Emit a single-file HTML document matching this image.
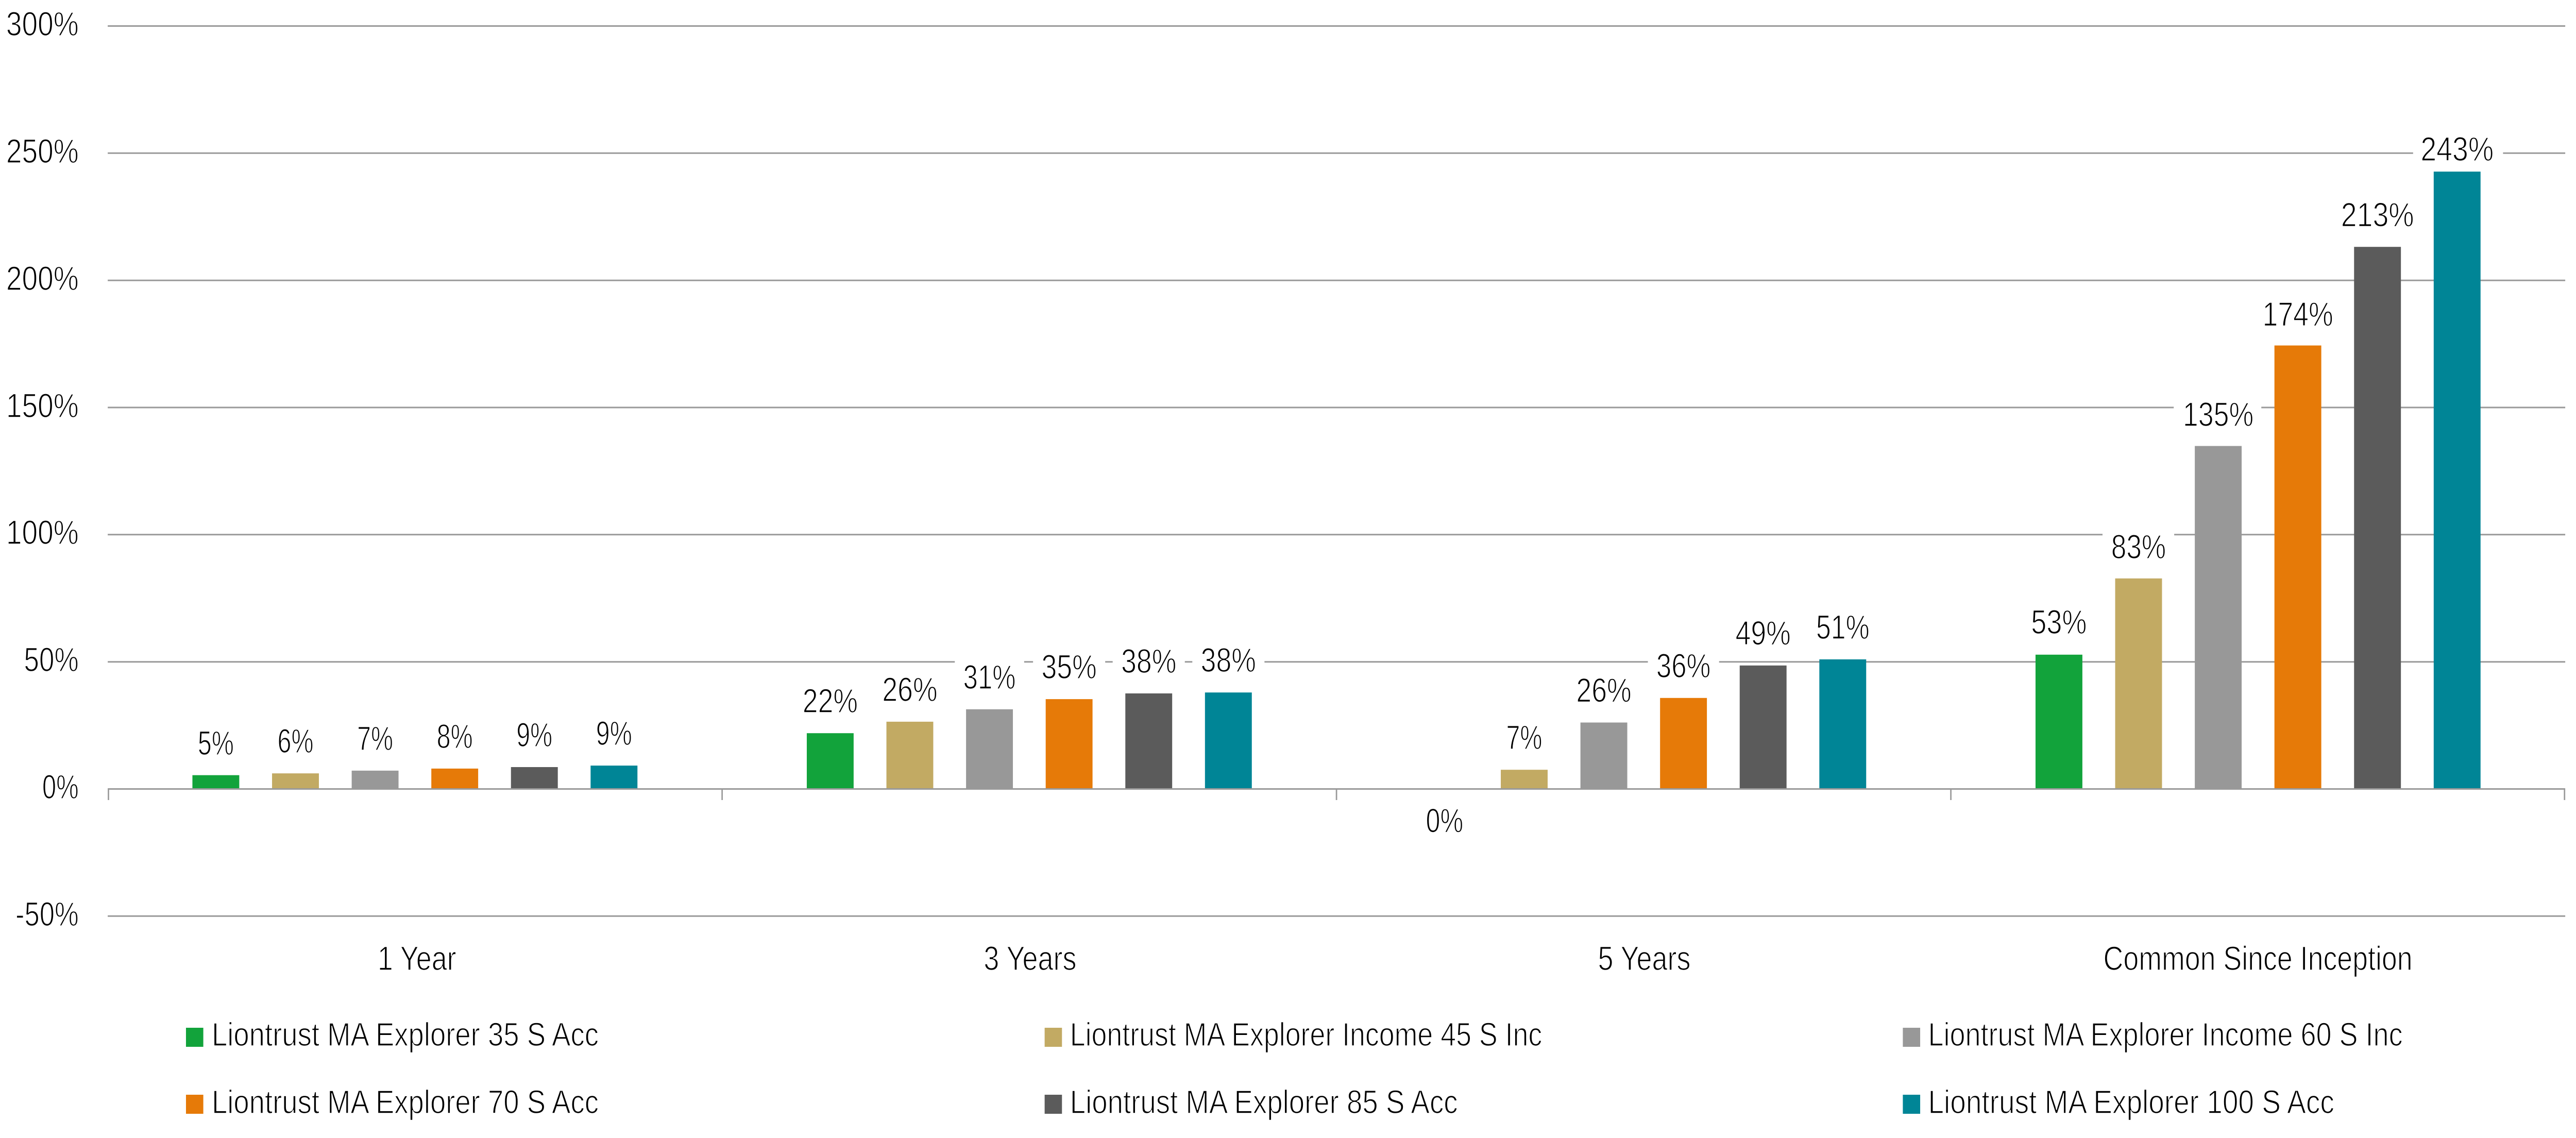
<!DOCTYPE html>
<html>
<head>
<meta charset="utf-8">
<style>
  html, body { margin: 0; padding: 0; background: #ffffff; width: 100%; height: 100%; overflow: hidden; }
  svg { position: fixed; left: 0; top: 0; width: 100vw; height: 100vh; display: block; }
  text { font-family: "Liberation Sans", "DejaVu Sans", sans-serif; fill: #000; stroke: #ffffff; stroke-width: 1.6px; }
</style>
</head>
<body>
<svg viewBox="0 0 5499 2209" preserveAspectRatio="none" xmlns="http://www.w3.org/2000/svg">
  <rect x="0" y="0" width="5499" height="2209" fill="#ffffff"/>

  <!-- gridlines -->
  <g stroke="#9a9a9a" stroke-width="3">
    <line x1="230" y1="50.5" x2="5476" y2="50.5"/>
    <line x1="230" y1="297.3" x2="5476" y2="297.3"/>
    <line x1="230" y1="544.2" x2="5476" y2="544.2"/>
    <line x1="230" y1="791" x2="5476" y2="791"/>
    <line x1="230" y1="1037.8" x2="5476" y2="1037.8"/>
    <line x1="230" y1="1284.7" x2="5476" y2="1284.7"/>
    <line x1="230" y1="1778.3" x2="5476" y2="1778.3"/>
  </g>

  <!-- y-axis labels -->
  <g font-size="66" text-anchor="end">
    <text x="168" y="69" textLength="155" lengthAdjust="spacingAndGlyphs">300%</text>
    <text x="168" y="316" textLength="155" lengthAdjust="spacingAndGlyphs">250%</text>
    <text x="168" y="563" textLength="155" lengthAdjust="spacingAndGlyphs">200%</text>
    <text x="168" y="810" textLength="155" lengthAdjust="spacingAndGlyphs">150%</text>
    <text x="168" y="1056" textLength="155" lengthAdjust="spacingAndGlyphs">100%</text>
    <text x="168" y="1303" textLength="117" lengthAdjust="spacingAndGlyphs">50%</text>
    <text x="168" y="1550" textLength="78" lengthAdjust="spacingAndGlyphs">0%</text>
    <text x="168" y="1797" textLength="135" lengthAdjust="spacingAndGlyphs">-50%</text>
  </g>

  <!-- bars: 1 Year -->
  <rect x="410.75" y="1504.7" width="100" height="26.8" fill="#12a33b"/>
  <rect x="580.75" y="1501.2" width="100" height="30.3" fill="#c2aa63"/>
  <rect x="750.75" y="1495.9" width="100" height="35.6" fill="#989898"/>
  <rect x="920.75" y="1491.9" width="100" height="39.6" fill="#e67a08"/>
  <rect x="1090.75" y="1489" width="100" height="42.5" fill="#5b5b5b"/>
  <rect x="1260.75" y="1486.1" width="100" height="45.4" fill="#008596"/>

  <!-- bars: 3 Years -->
  <rect x="1722.25" y="1423.2" width="100" height="108.3" fill="#12a33b"/>
  <rect x="1892.25" y="1400.9" width="100" height="130.6" fill="#c2aa63"/>
  <rect x="2062.25" y="1376.8" width="100" height="154.7" fill="#989898"/>
  <rect x="2232.25" y="1357.1" width="100" height="174.4" fill="#e67a08"/>
  <rect x="2402.25" y="1346" width="100" height="185.5" fill="#5b5b5b"/>
  <rect x="2572.25" y="1344.2" width="100" height="187.3" fill="#008596"/>

  <!-- bars: 5 Years -->
  <rect x="3203.75" y="1494.2" width="100" height="37.3" fill="#c2aa63"/>
  <rect x="3373.75" y="1402.5" width="100" height="129" fill="#989898"/>
  <rect x="3543.75" y="1354.8" width="100" height="176.7" fill="#e67a08"/>
  <rect x="3713.75" y="1291.8" width="100" height="239.7" fill="#5b5b5b"/>
  <rect x="3883.75" y="1279.9" width="100" height="251.6" fill="#008596"/>

  <!-- bars: Common Since Inception -->
  <rect x="4345.25" y="1270.8" width="100" height="260.7" fill="#12a33b"/>
  <rect x="4515.25" y="1122.8" width="100" height="408.7" fill="#c2aa63"/>
  <rect x="4685.25" y="865.7" width="100" height="665.8" fill="#989898"/>
  <rect x="4855.25" y="670.6" width="100" height="860.9" fill="#e67a08"/>
  <rect x="5025.25" y="479.2" width="100" height="1052.3" fill="#5b5b5b"/>
  <rect x="5195.25" y="333.1" width="100" height="1198.4" fill="#008596"/>

  <!-- zero axis line and ticks -->
  <g stroke="#9a9a9a" stroke-width="3">
    <line x1="230" y1="1531.5" x2="5476" y2="1531.5"/>
    <line x1="231.5" y1="1531.5" x2="231.5" y2="1553"/>
    <line x1="1541.5" y1="1531.5" x2="1541.5" y2="1553"/>
    <line x1="2853" y1="1531.5" x2="2853" y2="1553"/>
    <line x1="4164.5" y1="1531.5" x2="4164.5" y2="1553"/>
    <line x1="5474.5" y1="1531.5" x2="5474.5" y2="1553"/>
  </g>

  <!-- data label white boxes (only where they cross gridlines) -->
  <g fill="#ffffff">
    <rect x="2038.25" y="1279" width="148" height="68"/>
    <rect x="2205.25" y="1259" width="154" height="68"/>
    <rect x="2375.25" y="1248" width="154" height="68"/>
    <rect x="2545.25" y="1246" width="154" height="68"/>
    <rect x="3517.75" y="1256.8" width="152" height="68"/>
    <rect x="4488.25" y="1026" width="153" height="68"/>
    <rect x="4640.25" y="769" width="187" height="68"/>
    <rect x="5151.25" y="254" width="192" height="68"/>
  </g>

  <g font-size="66" text-anchor="middle">
    <!-- 1 Year -->
    <text x="460.75" y="1465" textLength="77" lengthAdjust="spacingAndGlyphs">5%</text>
    <text x="630.75" y="1461" textLength="77" lengthAdjust="spacingAndGlyphs">6%</text>
    <text x="800.75" y="1456" textLength="77" lengthAdjust="spacingAndGlyphs">7%</text>
    <text x="970.75" y="1452" textLength="77" lengthAdjust="spacingAndGlyphs">8%</text>
    <text x="1140.75" y="1449" textLength="77" lengthAdjust="spacingAndGlyphs">9%</text>
    <text x="1310.75" y="1446" textLength="77" lengthAdjust="spacingAndGlyphs">9%</text>
    <!-- 3 Years -->
    <text x="1772.25" y="1383" textLength="118" lengthAdjust="spacingAndGlyphs">22%</text>
    <text x="1942.25" y="1361" textLength="118" lengthAdjust="spacingAndGlyphs">26%</text>
    <text x="2112.25" y="1337" textLength="112" lengthAdjust="spacingAndGlyphs">31%</text>
    <text x="2282.25" y="1317" textLength="118" lengthAdjust="spacingAndGlyphs">35%</text>
    <text x="2452.25" y="1306" textLength="118" lengthAdjust="spacingAndGlyphs">38%</text>
    <text x="2622.25" y="1304" textLength="118" lengthAdjust="spacingAndGlyphs">38%</text>
    <!-- 5 Years -->
    <text x="3083.75" y="1615.5" textLength="80" lengthAdjust="spacingAndGlyphs">0%</text>
    <text x="3253.75" y="1454" textLength="77" lengthAdjust="spacingAndGlyphs">7%</text>
    <text x="3423.75" y="1362.5" textLength="118" lengthAdjust="spacingAndGlyphs">26%</text>
    <text x="3593.75" y="1314.8" textLength="116" lengthAdjust="spacingAndGlyphs">36%</text>
    <text x="3763.75" y="1251.5" textLength="118" lengthAdjust="spacingAndGlyphs">49%</text>
    <text x="3933.75" y="1240" textLength="114" lengthAdjust="spacingAndGlyphs">51%</text>
    <!-- Common -->
    <text x="4395.25" y="1230" textLength="119" lengthAdjust="spacingAndGlyphs">53%</text>
    <text x="4565.25" y="1084" textLength="117" lengthAdjust="spacingAndGlyphs">83%</text>
    <text x="4735.25" y="827" textLength="151" lengthAdjust="spacingAndGlyphs">135%</text>
    <text x="4905.25" y="632.7" textLength="151" lengthAdjust="spacingAndGlyphs">174%</text>
    <text x="5075.25" y="439.4" textLength="156" lengthAdjust="spacingAndGlyphs">213%</text>
    <text x="5245.25" y="312" textLength="156" lengthAdjust="spacingAndGlyphs">243%</text>
  </g>

  <!-- category labels -->
  <g font-size="66" text-anchor="middle">
    <text x="890" y="1883" textLength="168" lengthAdjust="spacingAndGlyphs">1 Year</text>
    <text x="2199" y="1883" textLength="198" lengthAdjust="spacingAndGlyphs">3 Years</text>
    <text x="3510" y="1883" textLength="198" lengthAdjust="spacingAndGlyphs">5 Years</text>
    <text x="4820" y="1883" textLength="660" lengthAdjust="spacingAndGlyphs">Common Since Inception</text>
  </g>

  <!-- legend -->
  <rect x="397" y="1995" width="37" height="37" fill="#12a33b"/>
  <rect x="2230" y="1995" width="37" height="37" fill="#c2aa63"/>
  <rect x="4062" y="1995" width="37" height="37" fill="#989898"/>
  <rect x="397" y="2125" width="37" height="37" fill="#e67a08"/>
  <rect x="2230" y="2125" width="37" height="37" fill="#5b5b5b"/>
  <rect x="4062" y="2125" width="37" height="37" fill="#008596"/>

  <g font-size="64">
    <text x="452" y="2030" textLength="826" lengthAdjust="spacingAndGlyphs">Liontrust MA Explorer 35 S Acc</text>
    <text x="2284" y="2030" textLength="1008" lengthAdjust="spacingAndGlyphs">Liontrust MA Explorer Income 45 S Inc</text>
    <text x="4116" y="2030" textLength="1013" lengthAdjust="spacingAndGlyphs">Liontrust MA Explorer Income 60 S Inc</text>
    <text x="452" y="2161" textLength="826" lengthAdjust="spacingAndGlyphs">Liontrust MA Explorer 70 S Acc</text>
    <text x="2284" y="2161" textLength="828" lengthAdjust="spacingAndGlyphs">Liontrust MA Explorer 85 S Acc</text>
    <text x="4116" y="2161" textLength="867" lengthAdjust="spacingAndGlyphs">Liontrust MA Explorer 100 S Acc</text>
  </g>
</svg>
</body>
</html>
